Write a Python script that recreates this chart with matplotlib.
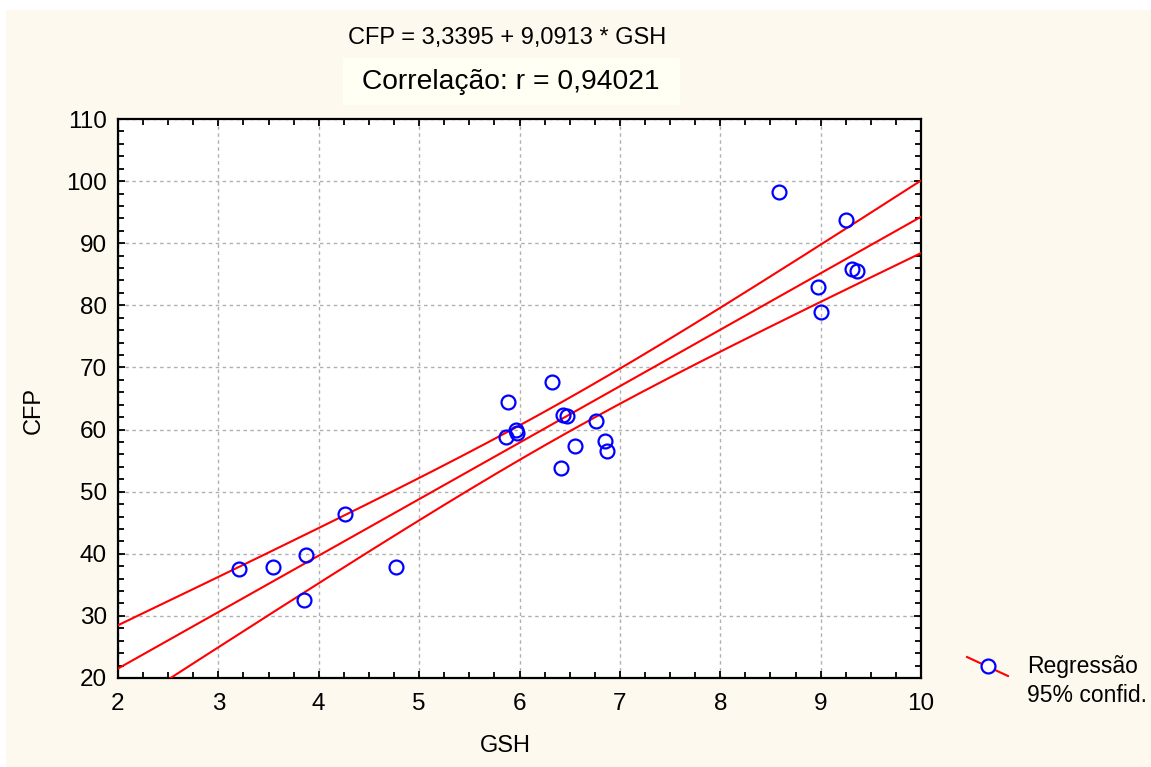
import numpy as np
import matplotlib
matplotlib.use("Agg")
import matplotlib.pyplot as plt
from matplotlib.patches import Rectangle
from matplotlib.lines import Line2D
from matplotlib.ticker import MultipleLocator

plt.rcParams['font.family'] = ['Liberation Sans', 'DejaVu Sans']

# GSH vs CFP observations
gsh = [3.21, 3.54, 3.87, 3.85, 4.26, 4.77, 5.89, 5.87, 5.97, 5.98,
       6.32, 6.43, 6.47, 6.55, 6.41, 6.76, 6.85, 6.87,
       8.59, 9.25, 8.97, 9.00, 9.31, 9.36]
cfp = [37.5, 37.8, 39.8, 32.5, 46.4, 37.8, 64.4, 58.8, 59.9, 59.4,
       67.6, 62.3, 62.2, 57.4, 53.8, 61.4, 58.2, 56.6,
       98.2, 93.7, 83.0, 78.9, 85.8, 85.5]

intercept = 3.3395
slope = 9.0913
r_value = 0.94021
t_975 = 2.074  # t quantile, 22 degrees of freedom

bg = '#fdf9ee'
W, H = 1151, 767

fig = plt.figure(figsize=(W / 100, H / 100), dpi=100)
fig.patch.set_facecolor('white')
fig.patches.append(Rectangle((6 / W, 0), 1, 1 - 10 / H, transform=fig.transFigure,
                             facecolor=bg, edgecolor='none', zorder=-10))
# lighter panel behind the correlation line
fig.patches.append(Rectangle((343 / W, 1 - 105 / H), (680 - 343) / W, 47 / H,
                             transform=fig.transFigure, facecolor='#fffff3',
                             edgecolor='none', zorder=-9))

ax = fig.add_axes([118 / W, 1 - 678 / H, (921 - 118) / W, (678 - 119) / H])
ax.set_facecolor('white')

x = np.array(gsh)
y = np.array(cfp)
n = len(x)
resid = y - (intercept + slope * x)
s = np.sqrt(np.sum(resid ** 2) / (n - 2))
sxx = np.sum((x - x.mean()) ** 2)

xs = np.linspace(2, 10, 200)
fit = intercept + slope * xs
half = t_975 * s * np.sqrt(1 / n + (xs - x.mean()) ** 2 / sxx)

for curve in (fit, fit + half, fit - half):
    ax.plot(xs, curve, color='red', lw=1.5, zorder=3)
ax.plot(x, y, 'o', ms=10, mfc='none', mec='blue', mew=1.6, zorder=4)

ax.set_xlim(2, 10)
ax.set_ylim(20, 110)
ax.xaxis.set_major_locator(MultipleLocator(1))
ax.xaxis.set_minor_locator(MultipleLocator(0.25))
ax.yaxis.set_major_locator(MultipleLocator(10))
ax.yaxis.set_minor_locator(MultipleLocator(2))
ax.tick_params(which='both', direction='in', top=True, right=True, width=1.3, labelsize=17.5)
ax.tick_params(which='major', length=5)
ax.tick_params(which='minor', length=4)
ax.tick_params(axis='x', which='major', pad=11)
ax.tick_params(axis='y', which='major', pad=8)
ax.grid(True, which='major', color='#b0b0b0', ls=(0, (2.5, 2.5)), lw=1.0)
for sp in ax.spines.values():
    sp.set_linewidth(1.6)

ax.set_xlabel('GSH', fontsize=17, va='center')
ax.set_ylabel('CFP', fontsize=17, va='center')
ax.xaxis.set_label_coords(0.483, -0.1216)
ax.yaxis.set_label_coords(-0.1046, 0.479)

fig.text(507 / W, 1 - 38 / H, 'CFP = 3,3395 + 9,0913 * GSH',
         ha='center', va='center', fontsize=17)
fig.text(511 / W, 1 - 82 / H, 'Correlação: r = {:.5f}'.format(r_value).replace('.', ','),
         ha='center', va='center', fontsize=20.3)

# legend glyph
fig.add_artist(Line2D([967 / W, 1008 / W], [1 - 657 / H, 1 - 676 / H],
                      color='red', lw=1.5, transform=fig.transFigure))
fig.add_artist(Line2D([988 / W], [1 - 666 / H], marker='o', ms=10, mfc='white',
                      mec='blue', mew=1.6, transform=fig.transFigure))
fig.text(1027 / W, 1 - 666 / H, 'Regressão', ha='left', va='center', fontsize=16.5)
fig.text(1027 / W, 1 - 695 / H, '95% confid.', ha='left', va='center', fontsize=16.5)

fig.savefig('out.png', dpi=100, facecolor=fig.get_facecolor())
